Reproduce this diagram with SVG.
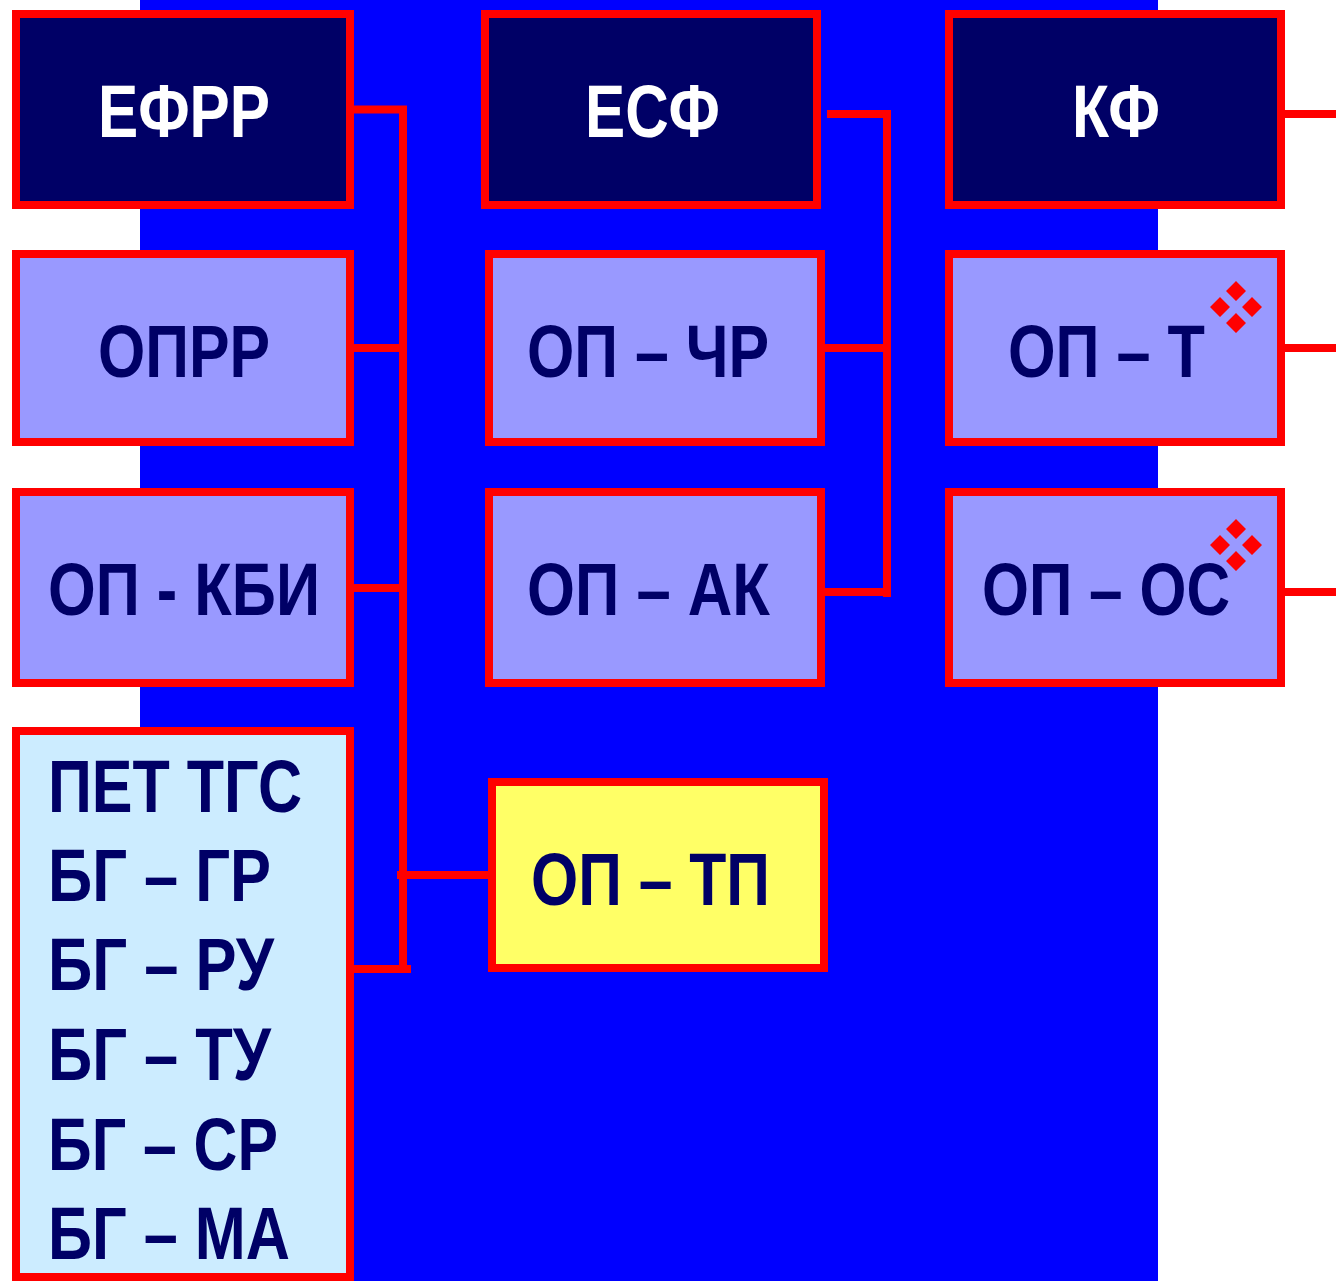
<svg xmlns="http://www.w3.org/2000/svg" width="1336" height="1281" viewBox="0 0 1336 1281">
<style>
.box{stroke:#FF0000;stroke-width:8}
.dark{fill:#000066}
.pur{fill:#9999FF}
.lb{fill:#CCECFF}
.yel{fill:#FFFF66}
.t{font-family:"Liberation Sans Narrow","Liberation Sans",Arial,sans-serif;font-weight:bold;font-size:74px;fill:#000066}
.w{fill:#FFFFFF}
.c{stroke:#FF0000;stroke-width:8;fill:none}
.dm{fill:#FF0000}
</style>
<defs>
<g id="dia">
<path class="dm" d="M0,-26 L10,-16 L0,-6 L-10,-16Z M0,26 L10,16 L0,6 L-10,16Z M-26,0 L-16,10 L-6,0 L-16,-10Z M26,0 L16,10 L6,0 L16,-10Z"/>
</g>
</defs>
<rect width="1336" height="1281" fill="#FFFFFF"/>
<rect x="140" y="0" width="1018" height="1281" fill="#0000FF"/>
<g id="connectors">
<path class="c" d="M346,109.5 H407 M403,106 V973 M346,348 H407 M346,588 H407 M353,969 H411 M397,875 H492"/>
<path class="c" d="M827,114 H891 M887,110 V597 M825,348 H887 M825,592 H891"/>
<path class="c" d="M1285,114 H1336 M1285,348 H1336 M1285,592 H1336"/>
</g>
<g id="efrr"><rect class="box dark" x="16" y="14" width="334" height="191"/><text class="t w" x="98" y="137" textLength="172" lengthAdjust="spacingAndGlyphs">ЕФРР</text></g>
<g id="oprr"><rect class="box pur" x="16" y="254" width="334" height="188"/><text class="t" x="98" y="377" textLength="172" lengthAdjust="spacingAndGlyphs">ОПРР</text></g>
<g id="opkbi"><rect class="box pur" x="16" y="492" width="334" height="191"/><text class="t" x="48" y="615" textLength="272" lengthAdjust="spacingAndGlyphs">ОП - КБИ</text></g>
<g id="list"><rect class="box lb" x="16" y="731" width="334" height="546"/>
<text class="t" x="48" y="812" textLength="254" lengthAdjust="spacingAndGlyphs">ПЕТ ТГС</text>
<text class="t" x="48" y="901" textLength="223" lengthAdjust="spacingAndGlyphs">БГ – ГР</text>
<text class="t" x="48" y="990" textLength="226" lengthAdjust="spacingAndGlyphs">БГ – РУ</text>
<text class="t" x="48" y="1080" textLength="223" lengthAdjust="spacingAndGlyphs">БГ – ТУ</text>
<text class="t" x="48" y="1170" textLength="230" lengthAdjust="spacingAndGlyphs">БГ – СР</text>
<text class="t" x="48" y="1259" textLength="242" lengthAdjust="spacingAndGlyphs">БГ – МА</text>
</g>
<g id="esf"><rect class="box dark" x="485" y="14" width="332" height="191"/><text class="t w" x="585" y="137" textLength="135" lengthAdjust="spacingAndGlyphs">ЕСФ</text></g>
<g id="opchr"><rect class="box pur" x="489" y="254" width="332" height="188"/><text class="t" x="527" y="377" textLength="242" lengthAdjust="spacingAndGlyphs">ОП – ЧР</text></g>
<g id="opak"><rect class="box pur" x="489" y="492" width="332" height="191"/><text class="t" x="527" y="615" textLength="243" lengthAdjust="spacingAndGlyphs">ОП – АК</text></g>
<g id="optp"><rect class="box yel" x="492" y="782" width="332" height="186"/><text class="t" x="531" y="905" textLength="239" lengthAdjust="spacingAndGlyphs">ОП – ТП</text></g>
<g id="kf"><rect class="box dark" x="949" y="14" width="332" height="191"/><text class="t w" x="1072" y="137" textLength="88" lengthAdjust="spacingAndGlyphs">КФ</text></g>
<g id="opt"><rect class="box pur" x="949" y="254" width="332" height="188"/><text class="t" x="1008" y="377" textLength="197" lengthAdjust="spacingAndGlyphs">ОП – Т</text><use href="#dia" x="1236" y="307"/></g>
<g id="opos"><rect class="box pur" x="949" y="492" width="332" height="191"/><text class="t" x="982" y="615" textLength="248" lengthAdjust="spacingAndGlyphs">ОП – ОС</text><use href="#dia" x="1236" y="545"/></g>
</svg>
